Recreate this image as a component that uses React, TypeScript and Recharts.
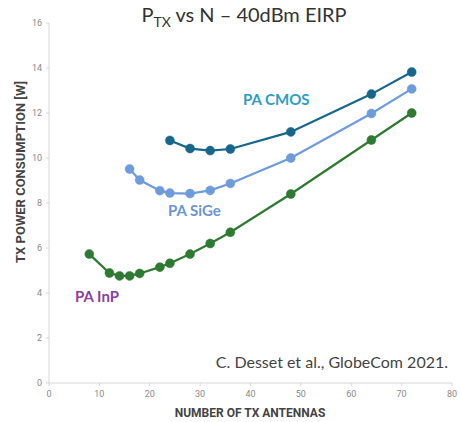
import React from "react";
import { LineChart, Line, XAxis, YAxis } from "recharts";

// antennas (x) and TX power in W (y)
const inpX = [8, 12, 14, 16, 18, 22, 24, 28, 32, 36, 48, 64, 72];
const inpY = [5.73, 4.89, 4.76, 4.76, 4.87, 5.15, 5.32, 5.73, 6.2, 6.7, 8.4, 10.8, 12.0];

const sigeX = [16, 18, 22, 24, 28, 32, 36, 48, 64, 72];
const sigeY = [9.51, 9.02, 8.55, 8.44, 8.42, 8.56, 8.87, 10.0, 11.98, 13.07];

const cmosX = [24, 28, 32, 36, 48, 64, 72];
const cmosY = [10.78, 10.42, 10.33, 10.4, 11.16, 12.84, 13.82];

const xTicks = [0, 10, 20, 30, 40, 50, 60, 70, 80];
const yTicks = [0, 2, 4, 6, 8, 10, 12, 14, 16];

const toRows = (xs: number[], ys: number[]) => xs.map((x, i) => ({ x, y: ys[i] }));

const inp = toRows(inpX, inpY);
const sige = toRows(sigeX, sigeY);
const cmos = toRows(cmosX, cmosY);

const W = 460;
const H = 422;
const font = "Lato, 'Open Sans', sans-serif";
const tickStyle = { fontSize: 9, fill: "#8a8a8a", fontFamily: "Roboto, sans-serif" };

const series = [
  { name: "PA CMOS", data: cmos, color: "#17678a" },
  { name: "PA SiGe", data: sige, color: "#6e9bdb" },
  { name: "PA InP", data: inp, color: "#2e7a32" },
];

export default function App() {
  return (
    <div style={{ position: "absolute", left: 0, top: 0, width: W, height: H, background: "#fff" }}>
      <LineChart width={W} height={H} margin={{ top: 23, right: 8, left: 0, bottom: 0 }}>
        <XAxis
          type="number"
          dataKey="x"
          domain={[0, 80]}
          ticks={xTicks}
          interval={0}
          height={39}
          tick={tickStyle}
          tickSize={3}
          tickMargin={5}
          axisLine={{ stroke: "#d6d6d6" }}
          tickLine={{ stroke: "#d6d6d6" }}
          allowDuplicatedCategory={false}
        />
        <YAxis
          type="number"
          dataKey="y"
          domain={[0, 16]}
          ticks={yTicks}
          interval={0}
          width={49}
          tick={tickStyle}
          tickSize={3}
          tickMargin={4}
          axisLine={{ stroke: "#d6d6d6" }}
          tickLine={{ stroke: "#d6d6d6" }}
        />
        {series.map((s) => (
          <Line
            key={s.name}
            data={s.data}
            dataKey="y"
            name={s.name}
            type="linear"
            stroke={s.color}
            strokeWidth={2.2}
            dot={{ r: 4.5, fill: s.color, stroke: s.color, strokeWidth: 0.5 }}
            isAnimationActive={false}
          />
        ))}
      </LineChart>

      <svg width={W} height={H} style={{ position: "absolute", left: 0, top: 0, pointerEvents: "none" }}>
        <text x={244} y={22} textAnchor="middle" fontSize={20} fill="#333" fontFamily={font}>
          P
          <tspan fontSize={14} dy={5}>TX</tspan>
          <tspan dy={-5}> vs N – 40dBm EIRP</tspan>
        </text>
        <text
          x={22}
          y={172}
          textAnchor="middle"
          fontSize={13}
          fontWeight="bold"
          fill="#444"
          fontFamily="Roboto, sans-serif"
          transform="rotate(-90 22 172)"
          dominantBaseline="middle"
        >
          TX POWER CONSUMPTION [W]
        </text>
        <text
          x={250}
          y={414}
          textAnchor="middle"
          fontSize={12}
          fontWeight="bold"
          fill="#444"
          fontFamily="Roboto, sans-serif"
          dominantBaseline="middle"
        >
          NUMBER OF TX ANTENNAS
        </text>
        <text x={448} y={364} textAnchor="end" fontSize={16} fill="#444" fontFamily={font} dominantBaseline="middle">
          C. Desset et al., GlobeCom 2021.
        </text>
        <text x={243} y={101} fontSize={15} fontWeight="bold" fill="#2b9ec6" fontFamily={font} dominantBaseline="middle">
          PA CMOS
        </text>
        <text x={168} y={212} fontSize={15} fontWeight="bold" fill="#6b95d6" fontFamily={font} dominantBaseline="middle">
          PA SiGe
        </text>
        <text x={75} y={298} fontSize={15} fontWeight="bold" fill="#8b3fa6" fontFamily={font} dominantBaseline="middle">
          PA InP
        </text>
      </svg>
    </div>
  );
}
